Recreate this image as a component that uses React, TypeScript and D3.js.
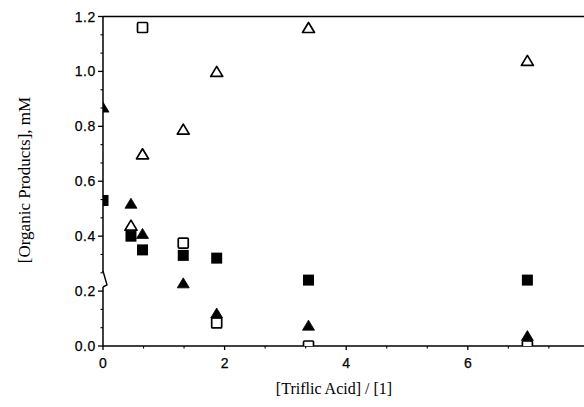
import React, { useEffect, useRef } from 'react';
import * as d3 from 'd3';

// values
const openTriX = [0.46, 0.65, 1.32, 1.87, 3.38, 6.98];
const openTriY = [0.44, 0.7, 0.79, 1.0, 1.16, 1.04];
const filledTriX = [0, 0.46, 0.65, 1.32, 1.87, 3.38, 6.98];
const filledTriY = [0.87, 0.52, 0.41, 0.23, 0.12, 0.076, 0.038];
const openSqX = [0.65, 1.32, 1.87, 3.38, 6.98];
const openSqY = [1.16, 0.375, 0.084, 0.0, 0.0];
const filledSqX = [0, 0.46, 0.65, 1.32, 1.87, 3.38, 6.98];
const filledSqY = [0.53, 0.4, 0.35, 0.33, 0.32, 0.24, 0.24];

const yTicks = [0, 0.2, 0.4, 0.6, 0.8, 1.0, 1.2];
const xTicks = [0, 2, 4, 6];

const W = 584;
const H = 407;

const App = () => {
  const ref = useRef<SVGSVGElement>(null);

  useEffect(() => {
    const svg = d3.select(ref.current);
    svg.selectAll('*').remove();

    const left = 103;
    const top = 16.5;
    const bottom = 346;

    const x = d3.scaleLinear().domain([0, 8]).range([left, left + 8 * 60.8]);
    const y = d3.scaleLinear().domain([0, 1.2]).range([bottom, top]);

    svg
      .append('defs')
      .append('clipPath')
      .attr('id', 'plot')
      .append('rect')
      .attr('x', left)
      .attr('y', top)
      .attr('width', W - left)
      .attr('height', bottom - top);

    // minor ticks every 1/3 of a major step
    const yMinor = d3.range(0, 18).map(i => (i * 0.2) / 3).filter((v, i) => i % 3 !== 0);
    const xMinor = d3.range(0, 24).map(i => (i * 2) / 3).filter((v, i) => i % 3 !== 0);

    const axisG = svg.append('g').attr('stroke', '#000').attr('fill', 'none');

    // y axis line with break between 0.2 and 0.4
    axisG.append('line').attr('x1', left).attr('x2', left).attr('y1', top).attr('y2', 272).attr('stroke-width', 1.5);
    axisG.append('path').attr('d', `M${left},271 L${left + 4},285 L${left},287`).attr('stroke-width', 1.4);
    axisG.append('line').attr('x1', left).attr('x2', left).attr('y1', 287).attr('y2', bottom).attr('stroke-width', 1.5);

    // top border and x axis
    axisG.append('line').attr('x1', left).attr('x2', W).attr('y1', top).attr('y2', top).attr('stroke-width', 1.7);
    axisG.append('line').attr('x1', left).attr('x2', W).attr('y1', bottom).attr('y2', bottom).attr('stroke-width', 1.5);

    axisG
      .selectAll('.ymaj')
      .data(yTicks)
      .enter()
      .append('line')
      .attr('x1', left - 5)
      .attr('x2', left)
      .attr('y1', d => y(d))
      .attr('y2', d => y(d))
      .attr('stroke-width', 1.3);
    axisG
      .selectAll('.ymin')
      .data(yMinor)
      .enter()
      .append('line')
      .attr('x1', left - 2.5)
      .attr('x2', left)
      .attr('y1', d => y(d))
      .attr('y2', d => y(d))
      .attr('stroke-width', 1.1);

    axisG
      .selectAll('.xmaj')
      .data(xTicks)
      .enter()
      .append('line')
      .attr('x1', d => x(d))
      .attr('x2', d => x(d))
      .attr('y1', bottom)
      .attr('y2', bottom + 4)
      .attr('stroke-width', 1.3);
    axisG
      .selectAll('.xmin')
      .data(xMinor)
      .enter()
      .append('line')
      .attr('x1', d => x(d))
      .attr('x2', d => x(d))
      .attr('y1', bottom)
      .attr('y2', bottom + 2.5)
      .attr('stroke-width', 1.1);

    const labelFont = '"Liberation Sans", Arial, sans-serif';
    svg
      .append('g')
      .selectAll('text')
      .data(yTicks)
      .enter()
      .append('text')
      .attr('x', 96)
      .attr('y', d => y(d))
      .attr('dy', '0.36em')
      .attr('text-anchor', 'end')
      .attr('font-family', labelFont)
      .attr('font-size', 14)
      .attr('letter-spacing', 0.6)
      .attr('stroke', '#000')
      .attr('stroke-width', 0.25)
      .text(d => d.toFixed(1));

    svg
      .append('g')
      .selectAll('text')
      .data(xTicks)
      .enter()
      .append('text')
      .attr('x', d => x(d))
      .attr('y', 368)
      .attr('text-anchor', 'middle')
      .attr('font-family', labelFont)
      .attr('font-size', 14)
      .attr('stroke', '#000')
      .attr('stroke-width', 0.25)
      .text(d => d);

    const serif = '"Liberation Serif", "Times New Roman", serif';
    svg
      .append('text')
      .attr('x', 334)
      .attr('y', 394)
      .attr('text-anchor', 'middle')
      .attr('font-family', serif)
      .attr('font-size', 16)
      .text('[Triflic Acid] / [1]');
    svg
      .append('text')
      .attr('transform', 'translate(30,180) rotate(-90)')
      .attr('text-anchor', 'middle')
      .attr('font-family', serif)
      .attr('font-size', 17)
      .text('[Organic Products], mM');

    const plot = svg.append('g').attr('clip-path', 'url(#plot)');
    const tri = (cx: number, cy: number) => `M${cx},${cy - 5} L${cx + 6},${cy + 5} L${cx - 6},${cy + 5} Z`;
    const s = 10;

    plot
      .selectAll('.osq')
      .data(openSqX.map((d, i) => [d, openSqY[i]]))
      .enter()
      .append('rect')
      .attr('x', d => x(d[0]) - s / 2)
      .attr('y', d => y(d[1]) - s / 2)
      .attr('width', s)
      .attr('height', s)
      .attr('rx', 1)
      .attr('fill', '#fff')
      .attr('stroke', '#000')
      .attr('stroke-width', 1.7);

    plot
      .selectAll('.otri')
      .data(openTriX.map((d, i) => [d, openTriY[i]]))
      .enter()
      .append('path')
      .attr('d', d => tri(x(d[0]), y(d[1])))
      .attr('fill', '#fff')
      .attr('stroke', '#000')
      .attr('stroke-width', 1.7)
      .attr('stroke-linejoin', 'round');

    plot
      .selectAll('.fsq')
      .data(filledSqX.map((d, i) => [d, filledSqY[i]]))
      .enter()
      .append('rect')
      .attr('x', d => x(d[0]) - 5.5)
      .attr('y', d => y(d[1]) - 5.5)
      .attr('width', 11)
      .attr('height', 11)
      .attr('fill', '#000');

    plot
      .selectAll('.ftri')
      .data(filledTriX.map((d, i) => [d, filledTriY[i]]))
      .enter()
      .append('path')
      .attr('d', d => tri(x(d[0]), y(d[1])))
      .attr('fill', '#000')
      .attr('stroke', '#000')
      .attr('stroke-width', 0.8);
  }, []);

  return (
    <svg
      ref={ref}
      width={W}
      height={H}
      style={{ position: 'absolute', left: 0, top: 0, background: '#fff' }}
    ></svg>
  );
};

export default App;
